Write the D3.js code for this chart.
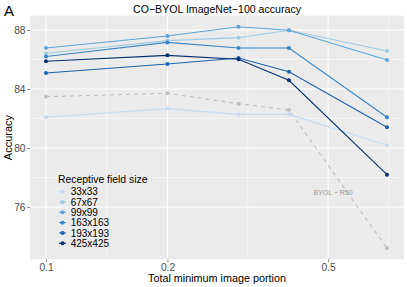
<!DOCTYPE html>
<html>
<head>
<meta charset="utf-8">
<script src="https://cdn.jsdelivr.net/npm/d3@7"></script>
<style>
  body { margin: 0; background: #fff; }
  text { font-family: "Liberation Sans", Arial, sans-serif; }
</style>
</head>
<body>
<script>
// data
var portions = [0.1, 0.2, 0.3, 0.4, 0.7];
var fieldSizes = ["33x33", "67x67", "99x99", "163x163", "193x193", "425x425"];
var acc33  = [82.08, 82.67, 82.28, 82.28, 80.18];
var acc67  = [86.42, 87.28, 87.48, 87.98, 86.58];
var acc99  = [86.78, 87.59, 88.22, 87.98, 85.97];
var acc163 = [86.20, 87.16, 86.78, 86.78, 82.08];
var acc193 = [85.08, 85.69, 86.10, 85.17, 81.40];
var acc425 = [85.88, 86.28, 86.02, 84.59, 78.19];
var byolR50 = [83.48, 83.71, 83.00, 82.58, 73.20];
var xTicks = [0.1, 0.2, 0.5];
var yTicks = [76, 80, 84, 88];

var colors = ["#c6dbef", "#9ecae1", "#5fa5d6", "#3a86c4", "#1c62ac", "#08306b"];
var seriesVals = [acc33, acc67, acc99, acc163, acc193, acc425];

var width = 407, height = 287;
var panel = {left: 30, right: 404, top: 15.7, bottom: 259.4};

var x = d3.scaleLog().domain([0.1, 0.7]).range([46, 387]);
var y = d3.scaleLinear().domain([76, 88]).range([207, 30]);

var svg = d3.select("body").append("svg")
    .attr("width", width)
    .attr("height", height);

svg.append("rect")
    .attr("x", panel.left).attr("y", panel.top)
    .attr("width", panel.right - panel.left)
    .attr("height", panel.bottom - panel.top)
    .attr("fill", "#ebebeb");

// minor grid: midpoints between majors
var xMinor = [Math.sqrt(0.1 * 0.2), Math.sqrt(0.2 * 0.5), Math.sqrt(0.5 * 1)];
var yMinor = [78, 82, 86];

svg.selectAll(".xminor").data(xMinor).enter().append("line")
    .attr("x1", function(d) { return x(d); }).attr("x2", function(d) { return x(d); })
    .attr("y1", panel.top).attr("y2", panel.bottom)
    .attr("stroke", "#fff").attr("stroke-width", 0.5);
svg.selectAll(".yminor").data(yMinor).enter().append("line")
    .attr("y1", function(d) { return y(d); }).attr("y2", function(d) { return y(d); })
    .attr("x1", panel.left).attr("x2", panel.right)
    .attr("stroke", "#fff").attr("stroke-width", 0.5);
svg.selectAll(".xmajor").data(xTicks).enter().append("line")
    .attr("x1", function(d) { return x(d); }).attr("x2", function(d) { return x(d); })
    .attr("y1", panel.top).attr("y2", panel.bottom)
    .attr("stroke", "#fff").attr("stroke-width", 1);
svg.selectAll(".ymajor").data(yTicks).enter().append("line")
    .attr("y1", function(d) { return y(d); }).attr("y2", function(d) { return y(d); })
    .attr("x1", panel.left).attr("x2", panel.right)
    .attr("stroke", "#fff").attr("stroke-width", 1);

// axes
var xAxis = svg.append("g")
    .attr("transform", "translate(0," + panel.bottom + ")")
    .call(d3.axisBottom(x).tickValues(xTicks).tickFormat(d3.format(".1f")).tickSize(2.7).tickPadding(1.2));
var yAxis = svg.append("g")
    .attr("transform", "translate(" + panel.left + ",0)")
    .call(d3.axisLeft(y).tickValues(yTicks).tickSize(2.7).tickPadding(1.8));
[xAxis, yAxis].forEach(function(a) {
  a.select(".domain").remove();
  a.selectAll(".tick line").attr("stroke", "#333").attr("stroke-width", 0.6);
  a.selectAll(".tick text").attr("fill", "#4d4d4d").style("font-size", "10.2px")
    .style("font-family", "'Liberation Sans', Arial, sans-serif");
});

var line = d3.line()
    .x(function(d, i) { return x(portions[i]); })
    .y(function(d) { return y(d); });

// BYOL baseline
svg.append("path")
    .attr("d", line(byolR50))
    .attr("fill", "none").attr("stroke", "#bebebe")
    .attr("stroke-width", 1.1).attr("stroke-dasharray", "4,4");
svg.selectAll(".byol").data(byolR50).enter().append("circle")
    .attr("cx", function(d, i) { return x(portions[i]); })
    .attr("cy", function(d) { return y(d); })
    .attr("r", 2).attr("fill", "#bebebe");

seriesVals.forEach(function(vals, k) {
  svg.append("path")
      .attr("d", line(vals))
      .attr("fill", "none").attr("stroke", colors[k]).attr("stroke-width", 1.1);
  svg.selectAll(".pt" + k).data(vals).enter().append("circle")
      .attr("cx", function(d, i) { return x(portions[i]); })
      .attr("cy", function(d) { return y(d); })
      .attr("r", 2).attr("fill", colors[k]);
});

svg.append("text")
    .attr("x", 333).attr("y", 194.5)
    .attr("text-anchor", "middle")
    .attr("fill", "#9a9a9a").style("font-size", "7px")
    .text("BYOL \u2212 R50");

// legend
var legend = svg.append("g");
legend.append("text")
    .attr("x", 58).attr("y", 182.5)
    .style("font-size", "10.4px").attr("fill", "#000")
    .text("Receptive field size");
var item = legend.selectAll(".item").data(fieldSizes).enter().append("g")
    .attr("transform", function(d, i) { return "translate(0," + (191.7 + i * 10.32) + ")"; });
item.append("line")
    .attr("x1", 59).attr("x2", 66).attr("y1", 0).attr("y2", 0)
    .attr("stroke", function(d, i) { return colors[i]; }).attr("stroke-width", 1.1);
item.append("circle")
    .attr("cx", 62.5).attr("cy", 0).attr("r", 2)
    .attr("fill", function(d, i) { return colors[i]; });
item.append("text")
    .attr("x", 70.7).attr("y", 3.6)
    .style("font-size", "10px").attr("fill", "#000")
    .text(function(d) { return d; });

// titles
svg.append("text")
    .attr("x", (panel.left + panel.right) / 2).attr("y", 13)
    .attr("text-anchor", "middle").style("font-size", "10.6px")
    .text("CO\u2212BYOL ImageNet\u2212100 accuracy");
svg.append("text")
    .attr("x", 4).attr("y", 15.5)
    .style("font-size", "15px")
    .text("A");
svg.append("text")
    .attr("x", (panel.left + panel.right) / 2).attr("y", 281.5)
    .attr("text-anchor", "middle").style("font-size", "10.8px")
    .text("Total minimum image portion");
svg.append("text")
    .attr("transform", "translate(12," + (panel.top + panel.bottom) / 2 + ") rotate(-90)")
    .attr("text-anchor", "middle").style("font-size", "11px")
    .text("Accuracy");
</script>
</body>
</html>
